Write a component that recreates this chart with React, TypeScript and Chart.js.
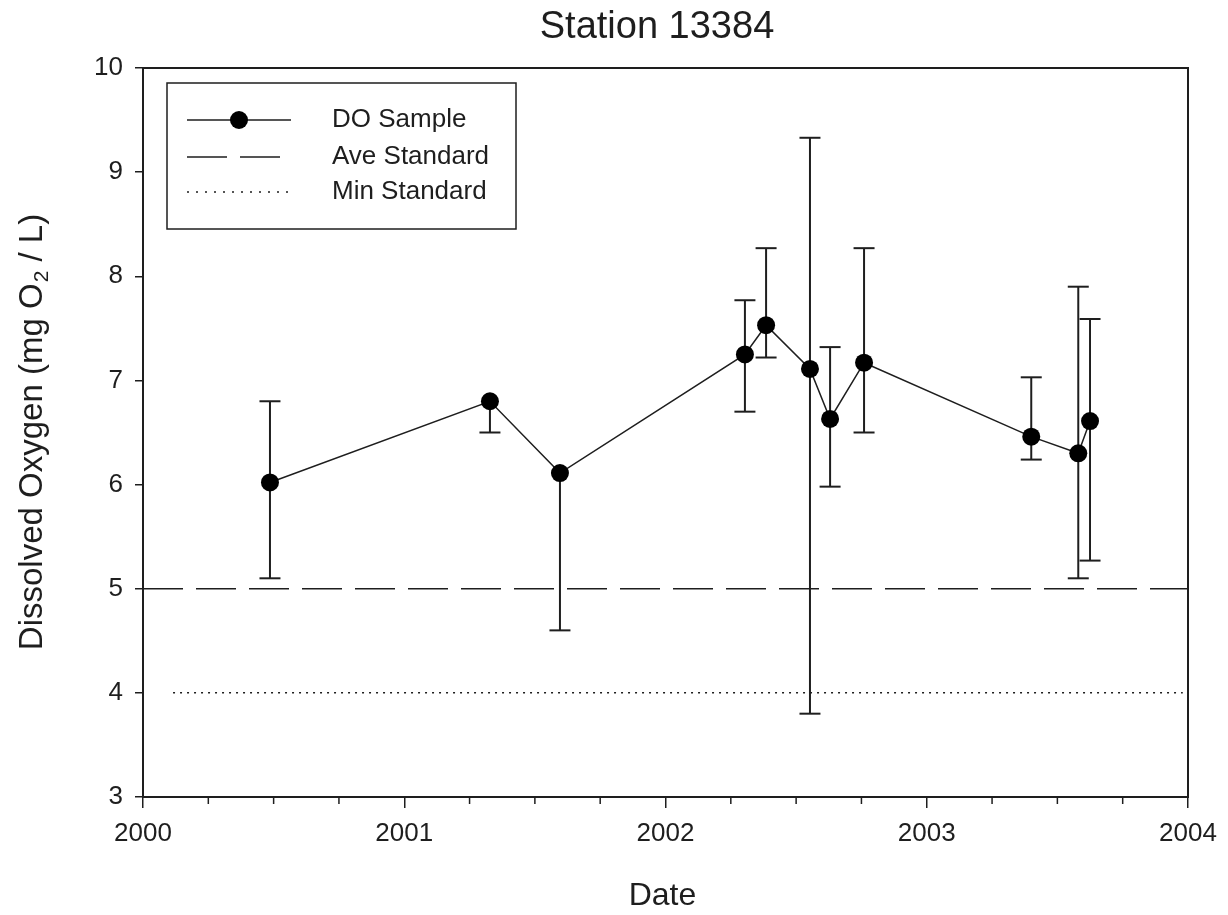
import React, { useEffect, useRef } from "react";
import { Chart, registerables } from "chart.js";

Chart.register(...registerables);

// ---- Data ----
const sampleDates = [2000.486, 2001.328, 2001.596, 2002.304, 2002.385, 2002.553, 2002.63, 2002.76, 2003.4, 2003.58, 2003.625];
const doValues = [6.02, 6.8, 6.11, 7.25, 7.53, 7.11, 6.63, 7.17, 6.46, 6.3, 6.61];
const errHigh = [6.8, 6.8, 6.11, 7.77, 8.27, 9.33, 7.32, 8.27, 7.03, 7.9, 7.59];
const errLow = [5.1, 6.5, 4.6, 6.7, 7.22, 3.8, 5.98, 6.5, 6.24, 5.1, 5.27];
const aveStandard = 5;
const minStandard = 4;
const aveRange = [2000, 2004];
const minRange = [2000.115, 2003.98];
const xMajorTicks = [2000, 2001, 2002, 2003, 2004];
const xMinorTicks = [2000.25, 2000.5, 2000.75, 2001.25, 2001.5, 2001.75, 2002.25, 2002.5, 2002.75, 2003.25, 2003.5, 2003.75];
const xMin = 2000;
const xMax = 2004;
const yMin = 3;
const yMax = 10;

const titleText = "Station 13384";
const xTitle = "Date";
const yTitleParts = ["Dissolved Oxygen (mg O", "2", " / L)"];
const legendLabels = ["DO Sample", "Ave Standard", "Min Standard"];

const FONT = "'Liberation Sans', Arial, sans-serif";
const INK = "#1e1e1e";

const overlayPlugin = {
  id: "overlay",
  beforeDatasetsDraw(chart: any) {
    const { ctx, scales } = chart;
    const xs = scales.x;
    const ys = scales.y;
    ctx.save();
    ctx.strokeStyle = INK;
    ctx.lineWidth = 2;
    for (let i = 0; i < sampleDates.length; i++) {
      const px = xs.getPixelForValue(sampleDates[i]);
      const top = ys.getPixelForValue(errHigh[i]);
      const bot = ys.getPixelForValue(errLow[i]);
      const mid = ys.getPixelForValue(doValues[i]);
      ctx.beginPath();
      ctx.moveTo(px, top);
      ctx.lineTo(px, bot);
      ctx.stroke();
      if (Math.abs(top - mid) > 1) {
        ctx.beginPath();
        ctx.moveTo(px - 10.5, top);
        ctx.lineTo(px + 10.5, top);
        ctx.stroke();
      }
      if (Math.abs(bot - mid) > 1) {
        ctx.beginPath();
        ctx.moveTo(px - 10.5, bot);
        ctx.lineTo(px + 10.5, bot);
        ctx.stroke();
      }
    }
    ctx.restore();
  },
  afterDraw(chart: any) {
    const { ctx, chartArea, scales } = chart;
    const xs = scales.x;
    ctx.save();
    // frame
    ctx.strokeStyle = INK;
    ctx.lineWidth = 2;
    ctx.strokeRect(chartArea.left, chartArea.top, chartArea.right - chartArea.left, chartArea.bottom - chartArea.top);
    // minor x ticks
    ctx.lineWidth = 1.5;
    for (const t of xMinorTicks) {
      const px = xs.getPixelForValue(t);
      ctx.beginPath();
      ctx.moveTo(px, chartArea.bottom);
      ctx.lineTo(px, chartArea.bottom + 7);
      ctx.stroke();
    }
    // title
    ctx.fillStyle = INK;
    ctx.textAlign = "center";
    ctx.textBaseline = "middle";
    ctx.font = `38px ${FONT}`;
    ctx.fillText(titleText, 657, 28);
    // x title
    ctx.font = `32px ${FONT}`;
    ctx.fillText(xTitle, (chartArea.left + chartArea.right) / 2 - 3, 896);
    // y title with subscript
    ctx.save();
    ctx.translate(33, (chartArea.top + chartArea.bottom) / 2);
    ctx.rotate(-Math.PI / 2);
    ctx.textAlign = "left";
    ctx.font = `33px ${FONT}`;
    const w1 = ctx.measureText(yTitleParts[0]).width;
    const w3 = ctx.measureText(yTitleParts[2]).width;
    ctx.font = `21px ${FONT}`;
    const w2 = ctx.measureText(yTitleParts[1]).width;
    const total = w1 + w2 + w3;
    const x0 = -total / 2;
    ctx.font = `33px ${FONT}`;
    ctx.fillText(yTitleParts[0], x0, 0);
    ctx.font = `21px ${FONT}`;
    ctx.fillText(yTitleParts[1], x0 + w1 + 1, 9);
    ctx.font = `33px ${FONT}`;
    ctx.fillText(yTitleParts[2], x0 + w1 + w2 + 1, 0);
    ctx.restore();

    // legend
    const lx = 167, ly = 83, lw = 349, lh = 146;
    ctx.fillStyle = "#ffffff";
    ctx.fillRect(lx, ly, lw, lh);
    ctx.strokeStyle = INK;
    ctx.lineWidth = 1.5;
    ctx.strokeRect(lx, ly, lw, lh);
    const rows = [120, 157, 192];
    ctx.lineWidth = 1.5;
    ctx.beginPath();
    ctx.moveTo(187, rows[0]);
    ctx.lineTo(291, rows[0]);
    ctx.stroke();
    ctx.fillStyle = "#000";
    ctx.beginPath();
    ctx.arc(239, rows[0], 9, 0, Math.PI * 2);
    ctx.fill();
    ctx.setLineDash([40, 13]);
    ctx.beginPath();
    ctx.moveTo(187, rows[1]);
    ctx.lineTo(280, rows[1]);
    ctx.stroke();
    ctx.setLineDash([2, 7]);
    ctx.beginPath();
    ctx.moveTo(187, rows[2]);
    ctx.lineTo(294, rows[2]);
    ctx.stroke();
    ctx.setLineDash([]);
    ctx.fillStyle = INK;
    ctx.font = `26px ${FONT}`;
    ctx.textAlign = "left";
    ctx.textBaseline = "middle";
    legendLabels.forEach((l, i) => ctx.fillText(l, 332, rows[i]));
    ctx.restore();
  },
};

export default function App() {
  const ref = useRef<HTMLCanvasElement | null>(null);
  useEffect(() => {
    document.body.style.margin = "0";
    const canvas = ref.current;
    if (!canvas) return;
    const chart = new Chart(canvas, {
      type: "scatter",
      data: {
        datasets: [
          {
            label: legendLabels[2],
            data: minRange.map((x) => ({ x, y: minStandard })),
            showLine: true,
            borderColor: INK,
            borderWidth: 1.5,
            borderDash: [2, 5],
            pointRadius: 0,
          },
          {
            label: legendLabels[1],
            data: aveRange.map((x) => ({ x, y: aveStandard })),
            showLine: true,
            borderColor: INK,
            borderWidth: 1.5,
            borderDash: [40, 13],
            pointRadius: 0,
          },
          {
            label: legendLabels[0],
            data: sampleDates.map((x, i) => ({ x, y: doValues[i] })),
            showLine: true,
            borderColor: INK,
            borderWidth: 1.5,
            pointRadius: 9,
            pointBackgroundColor: "#000",
            pointBorderColor: "#000",
            pointBorderWidth: 0,
          },
        ],
      },
      options: {
        responsive: false,
        animation: false,
        events: [],
        layout: { padding: { top: 68, right: 40, left: 0, bottom: 0 } },
        plugins: {
          legend: { display: false },
          title: { display: false },
          tooltip: { enabled: false },
        },
        scales: {
          x: {
            type: "linear",
            min: xMin,
            max: xMax,
            afterFit: (s: any) => {
              s.height = 118;
            },
            afterBuildTicks: (s: any) => {
              s.ticks = xMajorTicks.map((v) => ({ value: v }));
            },
            grid: {
              drawOnChartArea: false,
              drawTicks: true,
              tickLength: 11,
              color: INK,
              lineWidth: 1.5,
            },
            border: { display: true, color: INK, width: 2 },
            ticks: {
              color: INK,
              font: { family: FONT, size: 26 },
              padding: 10,
              maxRotation: 0,
              autoSkip: false,
              callback: (v: any) => String(v),
            },
          },
          y: {
            type: "linear",
            min: yMin,
            max: yMax,
            afterFit: (s: any) => {
              s.width = 143;
            },
            grid: {
              drawOnChartArea: false,
              drawTicks: true,
              tickLength: 8,
              color: INK,
              lineWidth: 1.5,
            },
            border: { display: true, color: INK, width: 2 },
            ticks: {
              stepSize: 1,
              color: INK,
              font: { family: FONT, size: 26 },
              padding: 12,
              autoSkip: false,
            },
          },
        },
      },
      plugins: [overlayPlugin],
    });
    return () => chart.destroy();
  }, []);
  return <canvas ref={ref} width={1228} height={915} style={{ display: "block" }} />;
}
